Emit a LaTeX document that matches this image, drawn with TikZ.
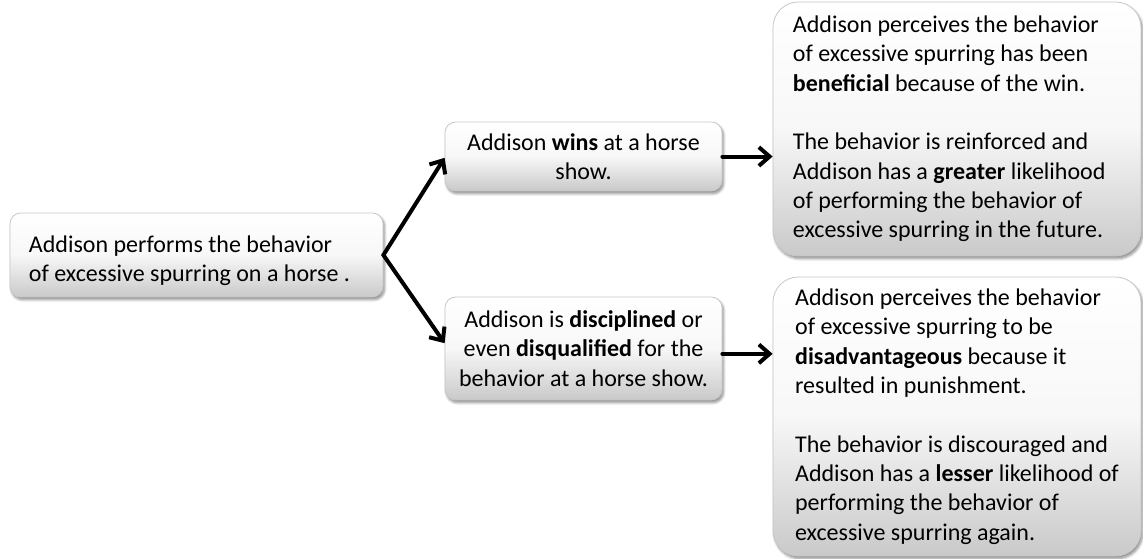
\documentclass[tikz,border=0pt]{standalone}
\usepackage{fontspec}
\setmainfont{Carlito}
\usetikzlibrary{arrows.meta,shadows.blur,calc}

\tikzset{
  card/.style={
    rounded corners=#1, draw=black!22, line width=0.6pt,
    top color=white, bottom color=black!21, middle color=black!3,
    blur shadow={shadow xshift=1.2pt, shadow yshift=-2pt,
                 shadow blur steps=6, shadow opacity=45},
    inner sep=0pt, font=\fontsize{18}{22}\selectfont
  },
  flow/.style={line width=3pt, line cap=round, line join=round,
               -{Straight Barb[length=8pt,width=14pt,line width=3pt]}}
}
% trailing pad that moves a left-aligned text block towards the left edge
\newcommand\padD{\hspace*{13.5pt}}
\newcommand\padE{\hspace*{4.5pt}}

\begin{document}
\begin{tikzpicture}[x=0.75pt, y=-0.75pt]
  \useasboundingbox (0,0) rectangle (1143,558);

  % starting behaviour
  \node[card=8pt, minimum width=279.75pt, minimum height=63pt,
        align=left] (act) at (196.5,255)
    {\rule{0pt}{21pt}Addison performs the behavior\\of excessive spurring on a horse .\hspace*{10.5pt}};

  % the two outcomes
  \node[card=8pt, minimum width=207.75pt, minimum height=51.75pt,
        align=center] (win) at (583.5,156.5)
    {Addison \textbf{wins} at a horse\\show.};
  \node[card=8pt, minimum width=207.75pt, minimum height=77.25pt,
        align=center] (pun) at (583.5,348.5)
    {Addison is \textbf{disciplined} or\\even \textbf{disqualified} for the\\behavior at a horse show.};

  % consequences
  \node[card=19pt, minimum width=276pt, minimum height=190.5pt,
        align=left] (good) at (957,129)
    {Addison perceives the behavior\padD\\of excessive spurring has been\padD\\\textbf{beneficial} because of the win.\padD\\[22pt]
     The behavior is reinforced and\padD\\Addison has a \textbf{greater} likelihood\padD\\of performing the behavior of\padD\\excessive spurring in the future.\padD};
  \node[card=19pt, minimum width=276pt, minimum height=209.25pt,
        align=left] (bad) at (957,416.5)
    {Addison perceives the behavior\padE\\of excessive spurring to be\padE\\\textbf{disadvantageous} because it\padE\\resulted in punishment.\padE\\[22pt]
     The behavior is discouraged and\padE\\Addison has a \textbf{lesser} likelihood of\padE\\performing the behavior of\padE\\excessive spurring again.\padE};

  % connectors
  \draw[flow] (act.east) -- ([yshift=-1pt]win.west);
  \draw[flow] (act.east) -- ([yshift=4pt]pun.west);
  \draw[flow] (win.east) -- (win.east -| good.west);
  \draw[flow] ([yshift=-4pt]pun.east) -- ([yshift=-4pt]pun.east -| bad.west);
\end{tikzpicture}
\end{document}
